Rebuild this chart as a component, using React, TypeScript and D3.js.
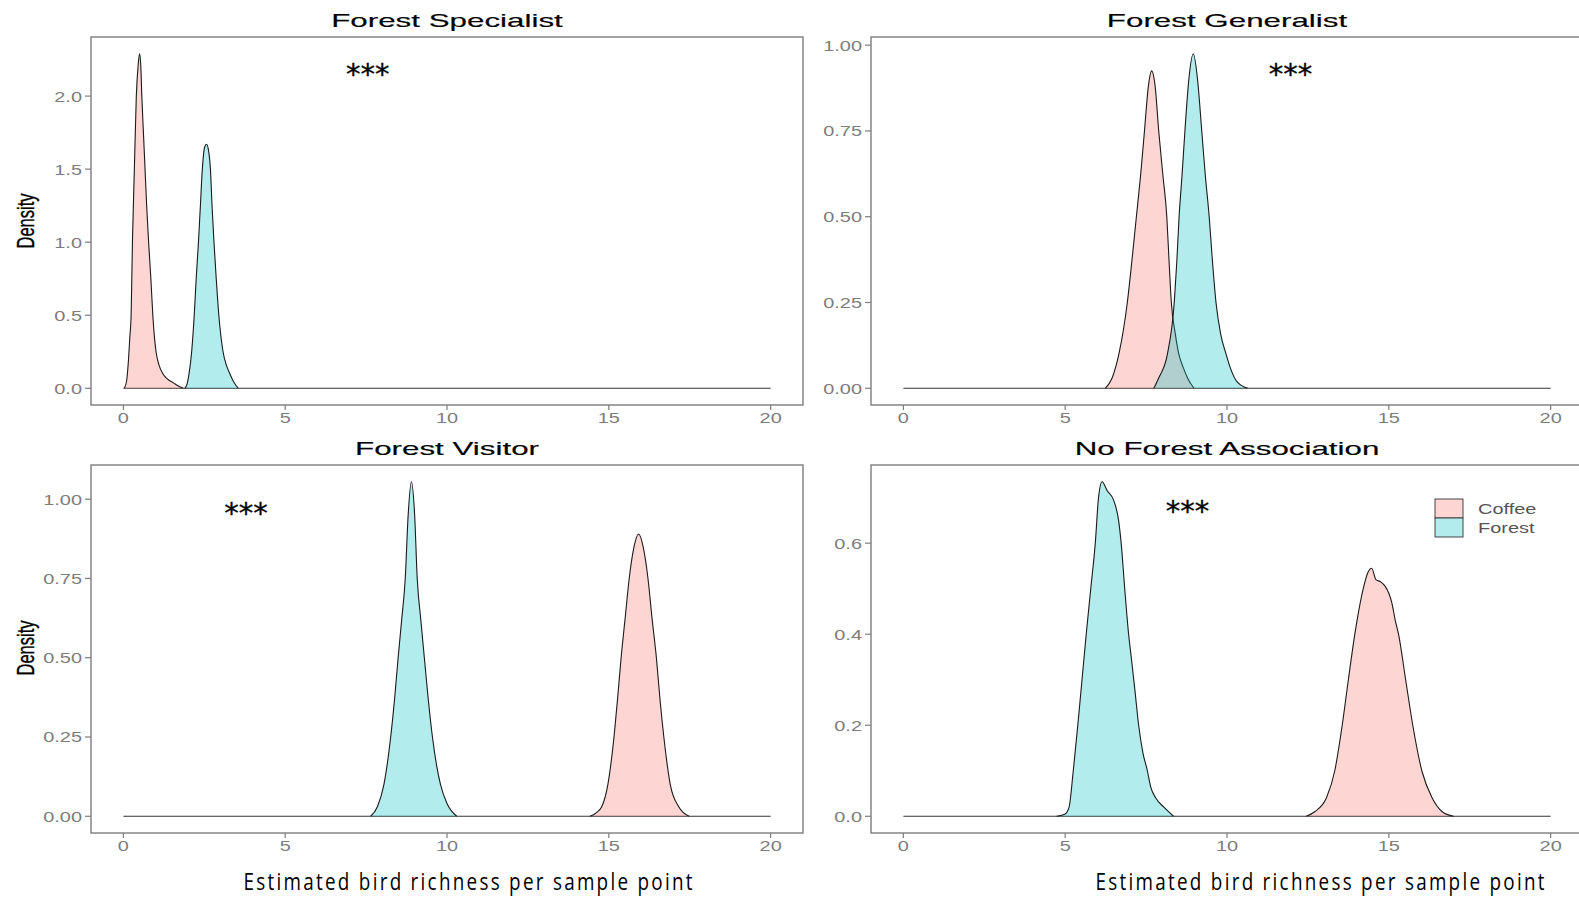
import React from 'react';
import * as d3 from 'd3';

// density curves, [richness, density]
const specialistCoffee: [number, number][] = [
  [0.03, 0], [0.1, 0.05], [0.16, 0.2], [0.2, 0.35], [0.24, 0.5], [0.28, 1.0], [0.34, 1.5], [0.4, 2.0],
  [0.46, 2.22], [0.5, 2.29], [0.54, 2.2], [0.57, 2.0], [0.62, 1.75], [0.67, 1.5], [0.72, 1.25], [0.78, 1.0],
  [0.85, 0.75], [0.91, 0.5], [0.96, 0.35], [1.01, 0.25], [1.1, 0.16], [1.22, 0.1], [1.38, 0.06], [1.53, 0.04],
  [1.7, 0.015], [1.85, 0],
];
const specialistForest: [number, number][] = [
  [1.9, 0], [1.97, 0.03], [2.03, 0.1], [2.11, 0.25], [2.19, 0.5], [2.25, 0.75], [2.32, 1.0], [2.38, 1.25],
  [2.44, 1.5], [2.51, 1.65], [2.57, 1.67], [2.63, 1.63], [2.69, 1.5], [2.74, 1.25], [2.8, 1.0], [2.87, 0.75],
  [2.95, 0.5], [3.08, 0.25], [3.18, 0.16], [3.29, 0.1], [3.42, 0.04], [3.55, 0],
];
const generalistCoffee: [number, number][] = [
  [6.24, 0], [6.45, 0.03], [6.66, 0.1], [6.92, 0.25], [7.06, 0.37], [7.2, 0.5], [7.33, 0.62], [7.45, 0.75],
  [7.57, 0.88], [7.67, 0.925], [7.78, 0.88], [7.89, 0.75], [8.02, 0.62], [8.14, 0.5], [8.21, 0.37], [8.28, 0.25],
  [8.4, 0.16], [8.51, 0.1], [8.65, 0.06], [8.78, 0.03], [8.98, 0],
];
const generalistForest: [number, number][] = [
  [7.74, 0], [7.89, 0.03], [8.16, 0.1], [8.37, 0.25], [8.45, 0.37], [8.52, 0.5], [8.61, 0.62], [8.7, 0.75],
  [8.82, 0.9], [8.96, 0.975], [9.09, 0.9], [9.22, 0.75], [9.33, 0.62], [9.45, 0.5], [9.55, 0.37], [9.66, 0.25],
  [9.8, 0.16], [9.97, 0.1], [10.1, 0.06], [10.3, 0.02], [10.64, 0],
];
const visitorCoffee: [number, number][] = [
  [14.42, 0], [14.6, 0.01], [14.78, 0.03], [14.97, 0.1], [15.16, 0.25], [15.27, 0.37], [15.38, 0.5], [15.5, 0.62],
  [15.63, 0.75], [15.78, 0.85], [15.92, 0.89], [16.06, 0.85], [16.21, 0.75], [16.34, 0.62], [16.47, 0.5],
  [16.58, 0.37], [16.7, 0.25], [16.9, 0.1], [17.16, 0.03], [17.48, 0],
];
const visitorForest: [number, number][] = [
  [7.64, 0], [7.85, 0.03], [8.05, 0.1], [8.26, 0.25], [8.38, 0.37], [8.49, 0.5], [8.6, 0.62], [8.71, 0.75],
  [8.8, 0.95], [8.9, 1.055], [9.0, 0.95], [9.08, 0.75], [9.19, 0.62], [9.3, 0.5], [9.42, 0.37], [9.55, 0.25],
  [9.68, 0.16], [9.8, 0.1], [10.0, 0.04], [10.3, 0],
];
const noneCoffee: [number, number][] = [
  [12.45, 0], [12.71, 0.01], [13.07, 0.04], [13.33, 0.1], [13.56, 0.2], [13.75, 0.3], [13.95, 0.4], [14.21, 0.5],
  [14.35, 0.535], [14.47, 0.545], [14.6, 0.52], [14.75, 0.515], [14.89, 0.505], [15.0, 0.49], [15.09, 0.47],
  [15.2, 0.43], [15.3, 0.4], [15.52, 0.3], [15.74, 0.2], [16.02, 0.1], [16.34, 0.04], [16.65, 0.01], [17.0, 0],
];
const noneForest: [number, number][] = [
  [4.74, 0], [5.0, 0.005], [5.12, 0.02], [5.25, 0.1], [5.39, 0.2], [5.52, 0.3], [5.65, 0.4], [5.79, 0.5],
  [5.93, 0.6], [6.03, 0.7], [6.14, 0.735], [6.3, 0.715], [6.5, 0.694], [6.65, 0.65], [6.73, 0.6], [6.84, 0.5],
  [6.96, 0.4], [7.04, 0.35], [7.15, 0.28], [7.27, 0.2], [7.4, 0.14], [7.54, 0.1], [7.64, 0.065], [7.8, 0.04],
  [8.05, 0.02], [8.35, 0],
];

const groups = ['Coffee', 'Forest'];
const groupColors = ['#F8766D', '#00BFC4'];
const panelTitles = ['Forest Specialist', 'Forest Generalist', 'Forest Visitor', 'No Forest Association'];
const xTicks = [0, 5, 10, 15, 20];
const yTicksSpecialist = [0, 0.5, 1, 1.5, 2];
const yTicksGeneralist = [0, 0.25, 0.5, 0.75, 1];
const yTicksVisitor = [0, 0.25, 0.5, 0.75, 1];
const yTicksNone = [0, 0.2, 0.4, 0.6];
const starLabel = '***';
const starSpots: [number, number][] = [[7.55, 2.2], [11.96, 0.937], [3.79, 0.978], [8.78, 0.685]];
const xLabel = 'Estimated bird richness per sample point';
const yLabel = 'Density';

const panels = [
  { title: panelTitles[0], series: [specialistCoffee, specialistForest], yTicks: yTicksSpecialist, fmt: '.1f', col: 0, row: 0 },
  { title: panelTitles[1], series: [generalistCoffee, generalistForest], yTicks: yTicksGeneralist, fmt: '.2f', col: 1, row: 0 },
  { title: panelTitles[2], series: [visitorCoffee, visitorForest], yTicks: yTicksVisitor, fmt: '.2f', col: 0, row: 1 },
  { title: panelTitles[3], series: [noneCoffee, noneForest], yTicks: yTicksNone, fmt: '.1f', col: 1, row: 1 },
];

const W = 1579;
const H = 897;
const colLeft = [91, 871];
const rowTop = [37, 465];
const boxW = 712;
const boxH = 368;
const FONT = '"Liberation Sans", Arial, sans-serif';
const GREY = '#7d7d7d';

// the source figure was stretched sideways, so the text is too
const SText = ({ x, y, sx = 1, anchor = 'middle', size, fill = '#000', family = FONT, children, ...rest }: any) => (
  <g transform={`translate(${x},${y}) scale(${sx},1)`}>
    <text textAnchor={anchor} fontSize={size} fill={fill} fontFamily={family} {...rest}>{children}</text>
  </g>
);

const Panel = ({ p, i }: any) => {
  const left = colLeft[p.col];
  const top = rowTop[p.row];
  const bottom = top + boxH;
  const peak = d3.max(p.series.flat(), (d: [number, number]) => d[1]) as number;
  const x = d3.scaleLinear().domain([-1, 21]).range([left, left + boxW]);
  const y = d3.scaleLinear().domain([-0.05 * peak, 1.05 * peak]).range([bottom, top]);
  const area = d3.area<[number, number]>()
    .x(d => x(d[0]))
    .y0(y(0))
    .y1(d => y(d[1]))
    .curve(d3.curveMonotoneX);
  const line = d3.line<[number, number]>()
    .x(d => x(d[0]))
    .y(d => y(d[1]))
    .curve(d3.curveMonotoneX);
  const fmt = d3.format(p.fmt);
  const star = starSpots[i];
  const clipId = `clip${i}`;

  return (
    <g>
      <clipPath id={clipId}>
        <rect x={left} y={top} width={boxW} height={boxH} />
      </clipPath>
      <line x1={x(0)} x2={x(20)} y1={y(0)} y2={y(0)} stroke="#333" strokeWidth={1.1} />
      <g clipPath={`url(#${clipId})`}>
        {p.series.map((s: [number, number][], k: number) => (
          <g key={k}>
            <path d={area(s) as string} fill={groupColors[k]} fillOpacity={0.3} />
            <path d={line(s) as string} fill="none" stroke="#1a1a1a" strokeWidth={1.1} strokeLinejoin="round" />
          </g>
        ))}
      </g>
      <rect x={left} y={top} width={boxW} height={boxH} fill="none" stroke={GREY} strokeWidth={1.4} />
      {p.yTicks.map((t: number) => (
        <g key={t}>
          <line x1={left - 6} x2={left} y1={y(t)} y2={y(t)} stroke={GREY} strokeWidth={1.2} />
          <SText x={left - 9} y={y(t) + 5.5} sx={1.33} anchor="end" size={15} fill={GREY}>{fmt(t)}</SText>
        </g>
      ))}
      {xTicks.map(t => (
        <g key={t}>
          <line x1={x(t)} x2={x(t)} y1={bottom} y2={bottom + 5} stroke={GREY} strokeWidth={1.2} />
          <SText x={x(t)} y={bottom + 18} sx={1.33} size={15} fill={GREY}>{t}</SText>
        </g>
      ))}
      <SText x={left + boxW / 2} y={top - 10} sx={1.65} size={19} fill="#000" stroke="#000" strokeWidth={0.15}>{p.title}</SText>
      <SText x={x(star[0])} y={y(star[1]) + 17} sx={1.0} size={29} fill="#000" stroke="#000" strokeWidth={0.35}
        family='"DejaVu Sans", sans-serif'>{starLabel}</SText>
    </g>
  );
};

export default function App() {
  const legendX = 1435;
  const legendY = 499;
  const keyW = 28;
  const keyH = 19;
  return (
    <svg width={W} height={H} style={{ position: 'absolute', left: 0, top: 0, background: '#fff' }}>
      <rect width={W} height={H} fill="#fff" />
      {panels.map((p, i) => <Panel key={i} p={p} i={i} />)}

      {[221, 648].map(cy => (
        <g key={cy} transform={`translate(25,${cy}) scale(1.5,1) rotate(-90)`}>
          <text textAnchor="middle" dominantBaseline="central" fontSize={16.5} fontFamily={FONT} fill="#000"
            stroke="#000" strokeWidth={0.25}>{yLabel}</text>
        </g>
      ))}

      {[468, 1320].map(cx => (
        <g key={cx} transform={`translate(${cx},890) scale(0.82,1)`}>
          <text x={0} y={0} textAnchor="middle" fontSize={23} textLength={449 / 0.82} lengthAdjust="spacing"
            fontFamily='"Open Sans", sans-serif' fill="#000">{xLabel}</text>
        </g>
      ))}

      {groups.map((g, k) => (
        <g key={g}>
          <rect x={legendX} y={legendY + k * keyH} width={keyW} height={keyH} fill="#fff" />
          <rect x={legendX} y={legendY + k * keyH} width={keyW} height={keyH} fill={groupColors[k]} fillOpacity={0.3}
            stroke="#333" strokeWidth={0.9} />
          <SText x={legendX + 43} y={legendY + k * keyH + keyH / 2 + 5} sx={1.33} anchor="start" size={15} fill="#555">{g}</SText>
        </g>
      ))}
    </svg>
  );
}
